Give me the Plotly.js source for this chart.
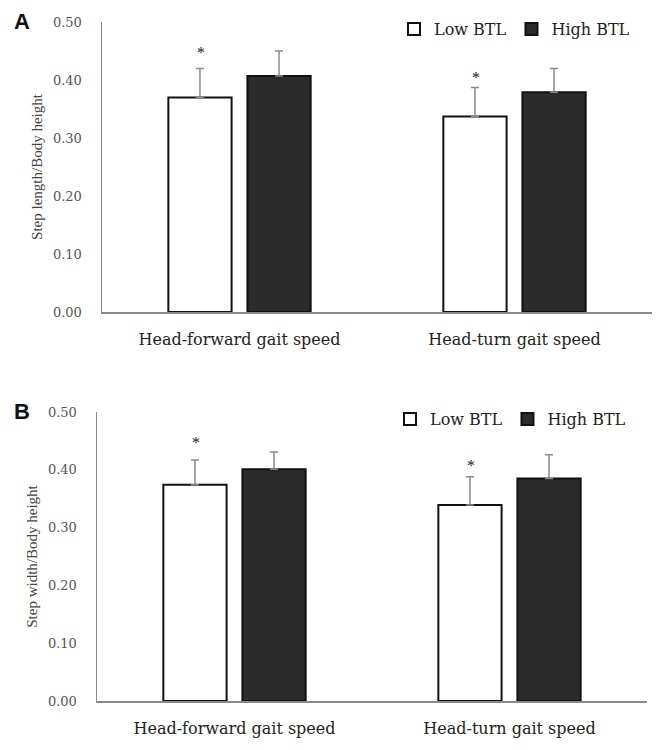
<!DOCTYPE html>
<html>
<head>
<meta charset="utf-8">
<script src="https://cdn.plot.ly/plotly-3.0.1.min.js"></script>
<style>html,body{margin:0;padding:0;background:#fff}#chart{width:660px;height:750px}</style>
</head>
<body>
<div id="chart"></div>
<script>
const categories = ["Head-forward gait speed", "Head-turn gait speed"];
const seriesNames = ["Low BTL", "High BTL"];
// Panel A: Step length/Body height
const aLow = [0.370, 0.337];
const aLowErr = [0.050, 0.050];
const aHigh = [0.407, 0.379];
const aHighErr = [0.043, 0.041];
const aStarY = [0.452, 0.410];
// Panel B: Step width/Body height
const bLow = [0.374, 0.339];
const bLowErr = [0.043, 0.049];
const bHigh = [0.401, 0.385];
const bHighErr = [0.030, 0.041];
const bStarY = [0.453, 0.412];
const yTicks = [0, 0.1, 0.2, 0.3, 0.4, 0.5];

const serif = "Liberation Serif, Times New Roman, serif";
const wideSerif = "DejaVu Serif, serif";
const lowFill = "#ffffff", highFill = "#2b2b2b", edge = "#111111", errCol = "#8a8a8a";

function bar(y, err, name, fill, xa, ya, leg) {
  return {
    type: "bar", x: categories, y: y, name: name, xaxis: xa, yaxis: ya,
    legend: leg, showlegend: true,
    marker: {color: fill, line: {color: edge, width: 2}},
    error_y: {type: "data", array: err, arrayminus: err.map(() => 0), symmetric: false,
              color: errCol, thickness: 1.5, width: 4},
    hoverinfo: "skip"
  };
}

const data = [
  bar(aLow, aLowErr, seriesNames[0], lowFill, "x", "y", "legend"),
  bar(aHigh, aHighErr, seriesNames[1], highFill, "x", "y", "legend"),
  bar(bLow, bLowErr, seriesNames[0], lowFill, "x2", "y2", "legend2"),
  bar(bHigh, bHighErr, seriesNames[1], highFill, "x2", "y2", "legend2")
];

function starAnn(xa, ya, ys) {
  return categories.map((c, i) => ({
    xref: xa, yref: ya, x: c, y: ys[i], text: "*", showarrow: false,
    xshift: -39, yshift: -3, font: {family: serif, size: 16, color: "#222"}
  }));
}

const yAxisBase = {
  range: [0, 0.5], tickvals: yTicks, tickformat: ".2f", showgrid: false, zeroline: false,
  showline: true, linecolor: "#8a8a8a", linewidth: 1.5, ticks: "",
  ticklabelstandoff: 16, tickfont: {family: wideSerif, size: 13, color: "#555"}
};
const xAxisBase = {
  showgrid: false, zeroline: false, showline: true, linecolor: "#8a8a8a", linewidth: 1.5,
  ticks: "", ticklabelstandoff: 12, tickfont: {family: wideSerif, size: 16, color: "#222"}
};
const legendBase = {
  orientation: "h", xanchor: "left", yanchor: "middle",
  font: {family: wideSerif, size: 16, color: "#222"}, itemwidth: 30, tracegroupgap: 0,
  bgcolor: "rgba(0,0,0,0)"
};

const layout = {
  width: 660, height: 750, margin: {l: 0, r: 0, t: 0, b: 0},
  paper_bgcolor: "#fff", plot_bgcolor: "#fff",
  barmode: "group", bargap: 0.425, bargroupgap: 0.2,
  xaxis: Object.assign({}, xAxisBase, {domain: [102/660, 652/660], anchor: "y"}),
  yaxis: Object.assign({}, yAxisBase, {domain: [1 - 312/750, 1 - 22/750], anchor: "x",
    title: {text: "Step length/Body height", standoff: 6, font: {family: serif, size: 15, color: "#444"}}}),
  xaxis2: Object.assign({}, xAxisBase, {domain: [97/660, 647/660], anchor: "y2"}),
  yaxis2: Object.assign({}, yAxisBase, {domain: [1 - 701/750, 1 - 412/750], anchor: "x2",
    title: {text: "Step width/Body height", standoff: 6, font: {family: serif, size: 15, color: "#444"}}}),
  legend: Object.assign({}, legendBase, {x: 394/660, y: 1 - 29/750}),
  legend2: Object.assign({}, legendBase, {x: 390/660, y: 1 - 419/750}),
  annotations: [
    ...starAnn("x", "y", aStarY),
    ...starAnn("x2", "y2", bStarY),
    {xref: "paper", yref: "paper", x: 12/660, y: 1 - 22/750, text: "<b>A</b>", showarrow: false,
     xanchor: "left", yanchor: "middle", font: {family: "Liberation Sans, Arial, sans-serif", size: 22, color: "#111"}},
    {xref: "paper", yref: "paper", x: 12/660, y: 1 - 411/750, text: "<b>B</b>", showarrow: false,
     xanchor: "left", yanchor: "middle", font: {family: "Liberation Sans, Arial, sans-serif", size: 22, color: "#111"}}
  ]
};

Plotly.newPlot("chart", data, layout, {staticPlot: true, displayModeBar: false});
</script>
</body>
</html>
